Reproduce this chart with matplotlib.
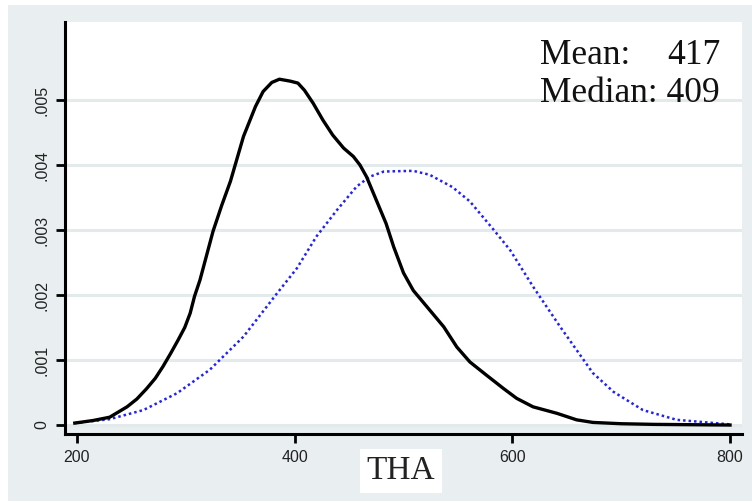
import matplotlib
matplotlib.use("Agg")
import matplotlib.pyplot as plt
from matplotlib.patches import Rectangle

# kernel density of THA (black)
kd_x = [198, 215, 230, 246, 255, 264, 272, 279, 286, 293, 299, 304, 308, 313, 325, 333,
        341, 353, 364, 371, 379, 386, 396, 403, 409, 417, 426, 435, 445, 454, 460, 466,
        475, 484, 491, 500, 509, 524, 537, 549, 561, 576, 592, 604, 619, 641, 659, 674,
        700, 730, 800]
kd_y = [0.00003, 0.00007, 0.00012, 0.00028, 0.00040, 0.00056, 0.00072, 0.00090, 0.00110,
        0.00131, 0.00150, 0.00172, 0.00198, 0.00223, 0.00298, 0.00338, 0.00375, 0.00444,
        0.00490, 0.00513, 0.00527, 0.00532, 0.00529, 0.00526, 0.00515, 0.00495, 0.00469,
        0.00446, 0.00426, 0.00413, 0.00400, 0.00382, 0.00346, 0.00310, 0.00274, 0.00234,
        0.00207, 0.00177, 0.00151, 0.00120, 0.00097, 0.00077, 0.00056, 0.00041, 0.00028,
        0.00018, 0.00008, 0.00004, 0.00002, 0.00001, 0.00000]

# comparison density (blue dotted)
ref_x = [198, 230, 261, 292, 322, 353, 384, 402, 420, 439, 457, 469, 482, 509, 524, 545,
         561, 583, 598, 619, 644, 674, 693, 720, 751, 800]
ref_y = [0.00003, 0.00009, 0.00023, 0.00049, 0.00085, 0.00136, 0.00203, 0.00241, 0.00290,
         0.00331, 0.00367, 0.00382, 0.00390, 0.00391, 0.00385, 0.00366, 0.00344, 0.00300,
         0.00269, 0.00213, 0.00151, 0.00080, 0.00051, 0.00023, 0.00008, 0.00001]

x_ticks = [200, 400, 600, 800]
y_ticks = [0, 0.001, 0.002, 0.003, 0.004, 0.005]
y_labels = ["0", ".001", ".002", ".003", ".004", ".005"]

W, H = 752, 503
BG = "#e9eff0"
GRID = "#e2eaec"

fig = plt.figure(figsize=(W / 100, H / 100), dpi=100)
fig.patch.set_facecolor("white")
fig.patches.append(Rectangle((8 / W, 2 / H), 1, 1 - 7 / H, transform=fig.transFigure,
                             facecolor=BG, edgecolor="none", zorder=-10))

ax = fig.add_axes([65 / W, (H - 434) / H, (742 - 65) / W, (434 - 22) / H])
ax.set_facecolor(BG)
ax.set_xlim(189, 811)
ax.set_ylim(-0.000138, 0.0062)

# white plot region above y=0
ax.add_patch(Rectangle((189, 0), 622, 0.0062, facecolor="white", edgecolor="none", zorder=0))
for yv in y_ticks:
    ax.axhline(yv, color=GRID, lw=2.2, zorder=1)

ax.plot(ref_x, ref_y, color="#2020ff", lw=1.8, ls=(0, (1, 1.2)), zorder=3)
ax.plot(kd_x, kd_y, color="black", lw=2.4, solid_joinstyle="round", zorder=4)

for s in ["top", "right"]:
    ax.spines[s].set_visible(False)
for s in ["left", "bottom"]:
    ax.spines[s].set_linewidth(2.2)

ax.set_xticks(x_ticks)
ax.set_xticklabels([str(v) for v in x_ticks])
ax.set_yticks(y_ticks)
ax.set_yticklabels(y_labels, rotation=90, va="center")
ax.tick_params(axis="both", direction="out", length=6.5, width=2.0, labelsize=11.5,
               colors="black", labelcolor="#222222", pad=5)
for lab in ax.get_xticklabels() + ax.get_yticklabels():
    lab.set_family("Liberation Sans")

fig.text(401 / W, 1 - 471 / H, "THA", family="Liberation Serif", fontsize=24,
         ha="center", va="center", color="#222222",
         bbox=dict(facecolor="white", edgecolor="none", pad=5))

fig.text(540 / W, 1 - 64 / H, "Mean:", family="Liberation Serif", fontsize=25.5,
         ha="left", va="baseline", color="#111111")
fig.text(720 / W, 1 - 64 / H, "417", family="Liberation Serif", fontsize=25.5,
         ha="right", va="baseline", color="#111111")
fig.text(540 / W, 1 - 102 / H, "Median: 409", family="Liberation Serif", fontsize=25.5,
         ha="left", va="baseline", color="#111111")

fig.savefig("out.png", dpi=100, facecolor=fig.get_facecolor())
